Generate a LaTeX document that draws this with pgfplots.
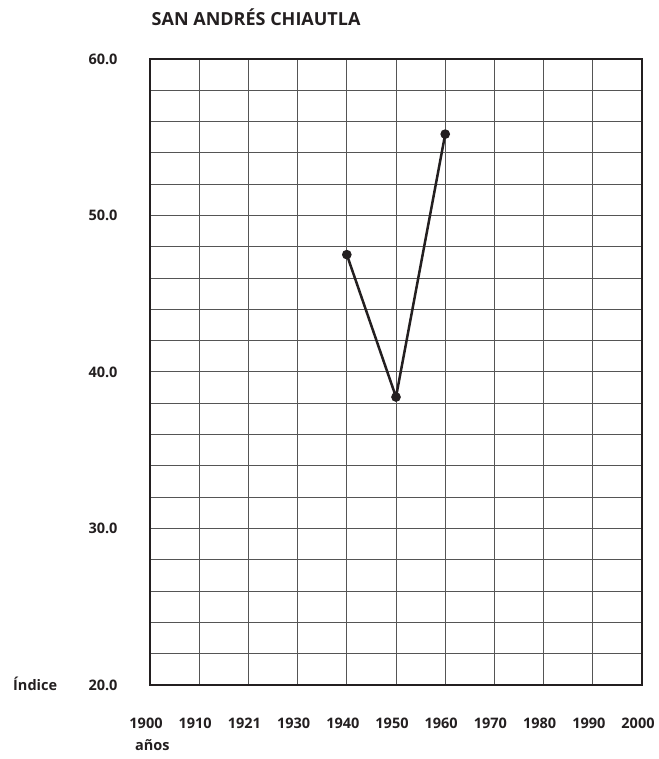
\documentclass[border=0pt]{standalone}
\usepackage{pgfplots}
\pgfplotsset{compat=1.18}
\usepackage{fontspec}
\setmainfont{Open Sans}
\definecolor{ink}{RGB}{35,31,32}
\definecolor{gridc}{RGB}{85,85,85}
\begin{document}
\begin{tikzpicture}[x=1bp,y=1bp]
\useasboundingbox (0,0) rectangle (659,759);
\begin{axis}[
  at={(150bp,74bp)}, anchor=south west,
  scale only axis, width=492bp, height=626bp,
  xmin=0, xmax=10, ymin=20, ymax=60,
  xtick={0,1,2,3,4,5,6,7,8,9,10},
  xticklabels={1900,1910,1921,1930,1940,1950,1960,1970,1980,1990,2000},
  ytick={20,30,40,50,60},
  yticklabels={20.0,30.0,40.0,50.0,60.0},
  minor ytick={22,24,26,28,32,34,36,38,42,44,46,48,52,54,56,58},
  grid=both,
  major grid style={gridc, line width=1bp},
  minor grid style={gridc, line width=1bp},
  major tick length=0pt, minor tick length=0pt,
  axis line style={ink, line width=1.1bp},
  xticklabel style={font=\bfseries\fontsize{14.5bp}{17bp}\selectfont, text=ink, anchor=base, inner sep=0pt, yshift=-43bp, xshift=-4bp},
  yticklabel style={font=\bfseries\fontsize{14.5bp}{17bp}\selectfont, text=ink, anchor=east, inner sep=0pt, xshift=-32.3bp},
  clip=false,
]
\addplot[ink, line width=2.5bp, mark=*, mark size=3.5bp, mark options={fill=ink, draw=ink}] coordinates {
  (4,47.5) (5,38.4) (6,55.2)
};
\end{axis}
\node[anchor=base west, inner sep=0pt, text=ink, font=\bfseries\fontsize{18bp}{21bp}\selectfont] at (151.5,733.3) {SAN ANDRÉS CHIAUTLA};
\node[anchor=base west, inner sep=0pt, text=ink, font=\bfseries\fontsize{14.5bp}{17bp}\selectfont] at (13,68.3) {Índice};
\node[anchor=base west, inner sep=0pt, text=ink, font=\bfseries\fontsize{14.5bp}{17bp}\selectfont] at (135,8) {años};
\end{tikzpicture}
\end{document}
